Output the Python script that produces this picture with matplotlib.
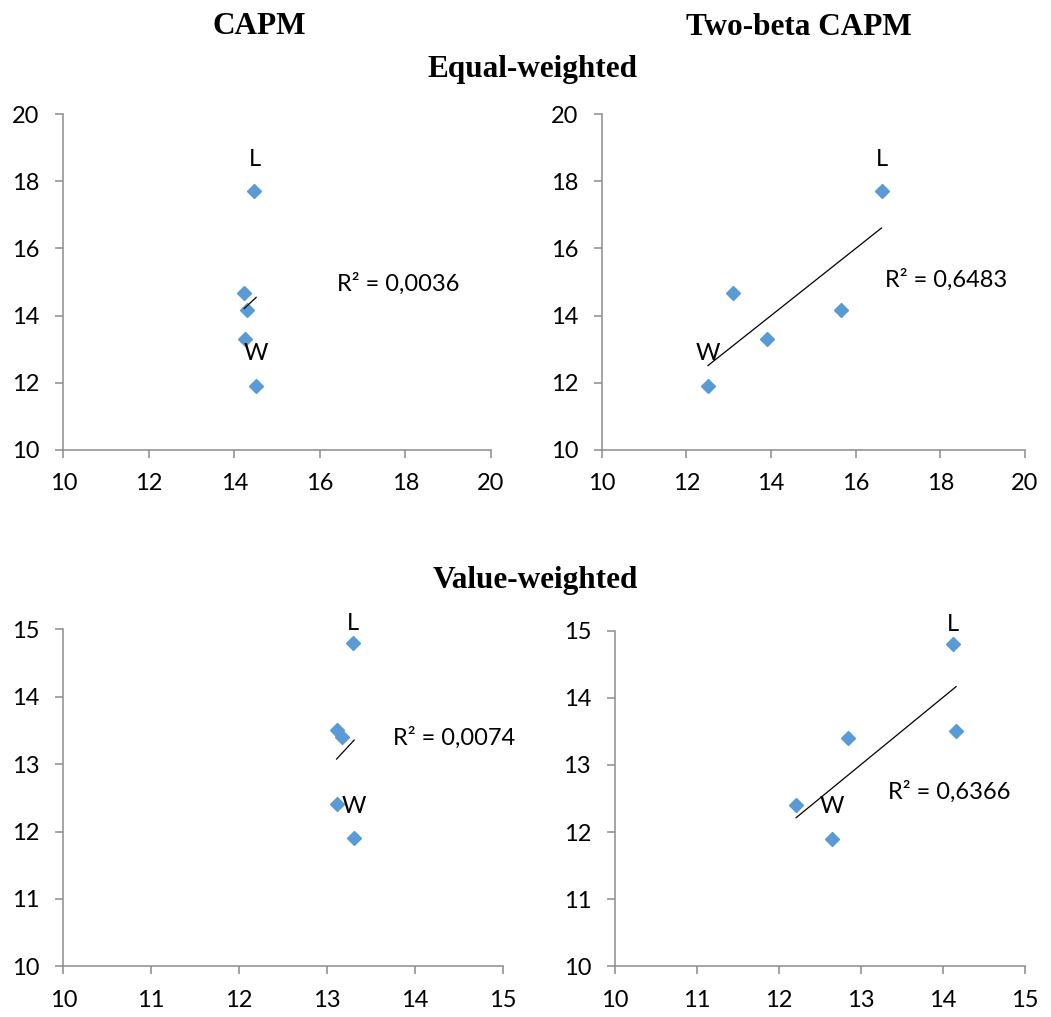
import matplotlib
matplotlib.use("Agg")
import matplotlib.pyplot as plt
import numpy as np

plt.rcParams['font.family'] = ['Lato', 'DejaVu Sans']

# mean returns (y) against returns predicted by each model (x)
ew_actual = [17.72, 14.66, 14.18, 13.31, 11.90]
ew_capm = [14.47, 14.23, 14.29, 14.26, 14.51]
ew_twobeta = [16.61, 13.09, 15.65, 13.91, 12.51]

vw_actual = [14.80, 13.50, 13.40, 12.41, 11.90]
vw_capm = [13.30, 13.11, 13.17, 13.11, 13.31]
vw_twobeta = [14.12, 14.16, 12.84, 12.21, 12.65]

r2_labels = ["R² = 0,0036", "R² = 0,6483", "R² = 0,0074", "R² = 0,6366"]
ew_ticks = [10, 12, 14, 16, 18, 20]
vw_ticks = [10, 11, 12, 13, 14, 15]

DOT = '#5B9BD5'
SPINE = '#8C8C8C'
FS = 17

fig = plt.figure(figsize=(10.51, 10.17), dpi=100)

panels = [
    # rect, x, y, ticks, r2 text pos, L offset px
    ([0.0602, 0.5578, 0.4070, 0.3298], ew_capm, ew_actual, ew_ticks, (16.41, 14.74), 25),
    ([0.5725, 0.5578, 0.4028, 0.3298], ew_twobeta, ew_actual, ew_ticks, (16.69, 14.86), 25),
    ([0.0602, 0.0498, 0.4181, 0.3314], vw_capm, vw_actual, vw_ticks, (13.756, 13.28), 13),
    ([0.5849, 0.0498, 0.3904, 0.3300], vw_twobeta, vw_actual, vw_ticks, (13.33, 12.49), 13),
]

for i, (rect, x, y, ticks, r2pos, loff) in enumerate(panels):
    ax = fig.add_axes(rect)
    x = np.array(x)
    y = np.array(y)
    ax.plot(x, y, linestyle='none', marker='D', ms=7.5, color=DOT, zorder=3)

    # linear trendline like excel, only over the data range
    k, b = np.polyfit(x, y, 1)
    xs = np.array([x.min(), x.max()])
    ax.plot(xs, k * xs + b, color='black', lw=0.9, zorder=4)

    ax.text(r2pos[0], r2pos[1], r2_labels[i], fontsize=FS, ha='left', va='baseline')

    hi = np.argmax(y)
    lo = np.argmin(y)
    ax.annotate('L', (x[hi], y[hi]), xytext=(0, loff), textcoords='offset pixels',
                ha='center', va='baseline', fontsize=FS)
    ax.annotate('W', (x[lo], y[lo]), xytext=(0, 25.5), textcoords='offset pixels',
                ha='center', va='baseline', fontsize=FS)

    ax.set_xlim(ticks[0], ticks[-1])
    ax.set_ylim(ticks[0], ticks[-1])
    ax.set_xticks(ticks)
    ax.set_yticks(ticks)
    for s in ['top', 'right']:
        ax.spines[s].set_visible(False)
    for s in ['left', 'bottom']:
        ax.spines[s].set_color(SPINE)
        ax.spines[s].set_linewidth(1.1)
    ax.tick_params(direction='out', length=6, width=1.1, color=SPINE,
                   labelsize=FS, pad=11)
    for lab in ax.get_xticklabels() + ax.get_yticklabels():
        lab.set_clip_on(False)

serif = dict(family='Liberation Serif', fontweight='bold', fontsize=22.5,
             ha='center', va='baseline')
fig.text(259 / 1051, 1 - 34.3 / 1017, 'CAPM', **serif)
fig.text(799 / 1051, 1 - 34.8 / 1017, 'Two-beta CAPM', **serif)
fig.text(533 / 1051, 1 - 77 / 1017, 'Equal-weighted', **serif)
fig.text(535 / 1051, 1 - 588 / 1017, 'Value-weighted', **serif)

fig.savefig('out.png', dpi=100)
